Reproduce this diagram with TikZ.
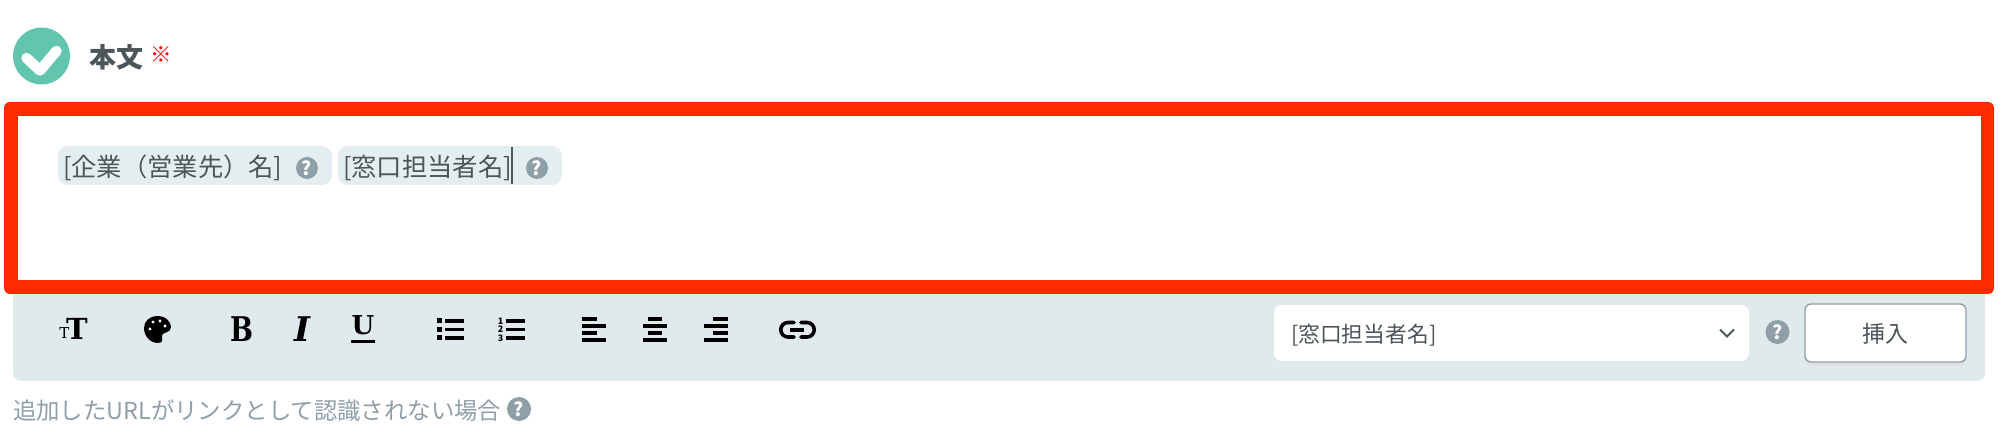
\documentclass[tikz,border=0pt]{standalone}
\usepackage{fontspec}
\usepackage{graphicx}
\setmainfont{Noto Sans CJK JP}
\newfontfamily\slab{DejaVu Serif}
\definecolor{chk}{HTML}{62C6AE}
\definecolor{alert}{HTML}{FF2A00}
\definecolor{tok}{HTML}{E4EEF0}
\definecolor{bar}{HTML}{E0E9EC}
\definecolor{hint}{HTML}{8F9FA8}
\definecolor{ink}{HTML}{4C5559}
\newcommand{\fs}[1]{\fontsize{#1}{#1}\selectfont}
\tikzset{
  txt/.style={inner sep=0pt,outer sep=0pt,text=ink},
  helpdot/.style={circle,fill=hint,inner sep=0pt,minimum size=#1,text=white,font=\bfseries\fs{9.5pt}},
  helpdot/.default=11pt,
  tokenbox/.style={fill=tok,rounded corners=5pt,draw=none},
  tbar/.style={line width=1.6pt,draw=black},
  glyph/.style={inner sep=0pt,outer sep=0pt,text=black}
}
\begin{document}
\begin{tikzpicture}[x=0.5pt,y=-0.5pt]
\useasboundingbox (0,0) rectangle (2004,442);
% check mark
\node[circle,fill=chk,minimum size=28.5pt,inner sep=0pt] (check) at (41.5,56) {};
\draw[white,line width=5.2pt,line cap=round,line join=round] (26.5,58) -- (40,70.5) -- (56.5,51);
\node[txt,anchor=west,font=\bfseries\fs{13.5pt}] (title) at (89,57.5) {本文};
\node[inner sep=0pt,anchor=west,text=red,font=\fs{10.8pt}] (req) at (150,55) {※};
% toolbar background
\fill[bar,rounded corners=4pt] (13,280) rectangle (1985,381);
% red frame
\fill[alert,rounded corners=3pt] (4,102) rectangle (1994,294);
\fill[white] (17.5,116) rectangle (1981,280);
% tokens
\fill[tokenbox] (58,146) rectangle (332,185);
\fill[tokenbox] (338,146) rectangle (562,185);
\node[txt,anchor=west,font=\fs{12.65pt}] (t1) at (63,167.5) {[企業（営業先）名]};
\node[txt,anchor=west,font=\fs{12.65pt}] (t2) at (343,167.5) {[窓口担当者名]};
\node[helpdot] (h1) at (307,168) {?};
\node[helpdot] (h2) at (537,168) {?};
\draw[ink,line width=1pt] (512,147) -- (512,184);
% toolbar icons
\node[glyph,font=\slab\bfseries\fs{14.5pt}] (ttbig) at (77,328.5) {T};
\node[glyph,font=\slab\fs{7.5pt}] (ttsmall) at (64.5,333.5) {T};
% palette
\fill[black] (157,316) .. controls (167,316) and (171,323) .. (171,327)
  .. controls (171,333) and (163,332) .. (162,335)
  .. controls (162,339) and (164,343) .. (158,343)
  .. controls (150,343) and (144,336) .. (144,328)
  .. controls (144,321) and (150,316) .. (157,316) -- cycle;
\foreach \px/\py in {153/322,160/321,165/326,150/329}
  \fill[white] (\px,\py) circle (1.7);
\node[glyph,font=\slab\bfseries\fs{17pt}] (bold) at (242,329.5) {\scalebox{.8}[1]{B}};
\node[glyph,font=\slab\bfseries\itshape\fs{17pt}] (ital) at (302,329.5) {I};
\node[glyph,font=\slab\bfseries\fs{13pt}] (under) at (363,325.5) {U};
\draw[tbar] (351,341.5) -- (375,341.5);
% bullet list
\foreach \ly in {321,329.5,338}{
  \fill[black] (437,\ly-2.5) rectangle (442,\ly+2.5);
  \draw[tbar] (445,\ly) -- (464,\ly);
}
% numbered list
\foreach \ly/\num in {321/1,329.5/2,338/3}{
  \node[glyph,font=\bfseries\fs{4.5pt}] at (500.5,\ly) {\num};
  \draw[tbar] (506,\ly) -- (525,\ly);
}
% align left
\draw[tbar] (582,319) -- (597,319) (582,326) -- (606,326) (582,333) -- (597,333) (582,340) -- (606,340);
% align centre
\draw[tbar] (648,319) -- (662,319) (643,326) -- (667,326) (648,333) -- (662,333) (643,340) -- (667,340);
% align right
\draw[tbar] (713,319) -- (728,319) (704,326) -- (728,326) (713,333) -- (728,333) (704,340) -- (728,340);
% link
\draw[black,line width=1.8pt,line cap=round] (794,322.5) -- (788,322.5) arc[start angle=-90,end angle=-270,radius=7.25] -- (794,337);
\draw[black,line width=1.8pt,line cap=round] (801,322.5) -- (807,322.5) arc[start angle=-90,end angle=90,radius=7.25] -- (801,337);
\draw[black,line width=1.8pt] (790,329.75) -- (804,329.75);
% select
\fill[white,rounded corners=4pt] (1274,305) rectangle (1749,361);
\node[txt,anchor=west,font=\fs{10.9pt}] (sel) at (1291,335) {[窓口担当者名]};
\draw[ink,line width=1pt] (1720,329.5) -- (1727,336.5) -- (1734,329.5);
\node[helpdot=12pt] (h3) at (1777.5,332) {?};
% button
\fill[black!12,rounded corners=3pt] (1805,310) rectangle (1966,366);
\draw[fill=white,draw=hint,line width=0.7pt,rounded corners=3pt] (1805,304) rectangle (1966,362);
\node[txt,font=\fs{11.5pt}] (ins) at (1885,334) {挿入};
% footnote
\node[txt,anchor=west,text=hint,font=\fs{11.7pt}] (foot) at (13,411) {追加したURLがリンクとして認識されない場合};
\node[helpdot=12pt] (h4) at (519,409) {?};
\end{tikzpicture}
\end{document}
